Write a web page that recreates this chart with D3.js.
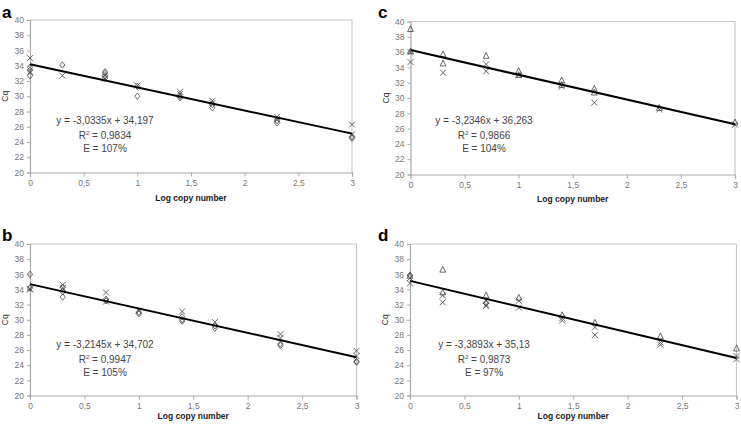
<!DOCTYPE html>
<html><head><meta charset="utf-8">
<script src="https://cdn.jsdelivr.net/npm/d3@7"></script>
<style>body{margin:0;background:#fff}svg{display:block;font-family:"Liberation Sans",Arial,sans-serif}</style>
</head><body><svg id="c" width="741" height="426"></svg>
<script>
const logCopy = [0, 0.301, 0.699, 1, 1.398, 1.699, 2.301, 3];
const xTicks = [0, 0.5, 1, 1.5, 2, 2.5, 3];
const yTicks = [20, 22, 24, 26, 28, 30, 32, 34, 36, 38, 40];

// panel a
const aDiamond = [[33.8, 33.4, 32.7], [34.1], [33.2, 33.0, 32.7, 32.4], [31.3, 30.0], [30.0, 29.8], [28.9, 28.5], [26.8, 26.5], [24.7, 24.5]];
const aCross = [[35.0, 33.2], [32.7], [32.3], [31.4], [30.6, 30.3], [29.4, 29.1], [27.3, 27.0], [26.3, 25.0]];
// panel b
const bDiamond = [[36.0, 34.2], [34.3, 33.7, 33.0], [32.7, 32.5], [31.0, 30.8], [30.4, 30.0, 29.8], [29.2, 28.9], [26.8, 26.6], [24.5, 24.4]];
const bCross = [[34.1, 34.0], [34.6, 34.2], [33.6, 32.4], [31.2], [31.1], [29.7], [28.1, 27.6], [25.9, 25.2]];
// panel c
const cTriangle = [[39.0, 36.1], [35.7, 34.5], [35.5], [33.5, 33.0], [32.3, 31.7], [31.2, 30.7], [28.7], [26.8]];
const cCross = [[36.0, 34.7], [33.3], [34.4, 33.5], [33.0], [31.5], [29.4], [28.5], [26.5]];
// panel d
const dTriangle = [[35.8], [36.6, 33.6], [33.2], [32.9], [30.6], [29.6], [27.8], [26.2]];
const dCross = [[35.5, 34.8], [33.2, 32.3], [32.5, 32.0, 31.8], [32.5, 31.6], [30.2, 29.9], [29.0, 28.0], [27.0, 26.7], [25.2, 24.8]];
const dDiamond = [[35.9], [], [32.2], [], [], [], [], []];

const panelLetters = ["a", "b", "c", "d"];
const slopes = [-3.0335, -3.2145, -3.2346, -3.3893];
const intercepts = [34.197, 34.702, 36.263, 35.13];
const equations = ["y = -3,0335x + 34,197", "y = -3,2145x + 34,702", "y = -3,2346x + 36,263", "y = -3,3893x + 35,13"];
const r2Values = ["0,9834", "0,9947", "0,9866", "0,9873"];
const effValues = ["107%", "105%", "104%", "97%"];

const panels = [
  {L: 30, R: 352, T: 20, B: 172.5, lx: 2, ly: 18, ex: 105, ey: 124, xl: 28, series: [[aDiamond, "diamond"], [aCross, "cross"]]},
  {L: 30, R: 356.5, T: 244, B: 395.5, lx: 2, ly: 241, ex: 105, ey: 348, xl: 23, series: [[bDiamond, "diamond"], [bCross, "cross"]]},
  {L: 410.5, R: 735, T: 21.5, B: 174.5, lx: 378, ly: 18, ex: 484, ey: 124, xl: 27, series: [[cTriangle, "triangle"], [cCross, "cross"]]},
  {L: 410, R: 736.5, T: 244, B: 395.5, lx: 378, ly: 241, ex: 484, ey: 348, xl: 23, series: [[dTriangle, "triangle"], [dCross, "cross"], [dDiamond, "diamond"]]}
];

const svg = d3.select("#c");
const fmt = v => String(v).replace(".", ",");

function markerPath(type) {
  if (type === "diamond") return "M0,-3.2L2.6,0L0,3.2L-2.6,0Z";
  if (type === "triangle") return "M0,-3.4L2.9,2.4L-2.9,2.4Z";
  return "M-3,-3L3,3M-3,3L3,-3";
}

panels.forEach((p, i) => {
  const x = d3.scaleLinear().domain([0, 3]).range([p.L, p.R]);
  const y = d3.scaleLinear().domain([20, 40]).range([p.B, p.T]);
  const g = svg.append("g");

  // frame top/right
  g.append("path").attr("d", `M${p.L},${p.T}H${p.R}V${p.B}`).attr("fill", "none").attr("stroke", "#c8c8c8").attr("stroke-width", 1.2);

  const yAxis = g.append("g").attr("transform", `translate(${p.L},0)`)
    .call(d3.axisLeft(y).tickValues(yTicks).tickSize(3).tickPadding(3).tickFormat(d => d));
  const xAxis = g.append("g").attr("transform", `translate(0,${p.B})`)
    .call(d3.axisBottom(x).tickValues(xTicks).tickSize(4).tickPadding(3).tickFormat(fmt));
  [yAxis, xAxis].forEach(ax => {
    ax.select(".domain").attr("stroke", "#aaa").attr("stroke-width", 1.2);
    ax.selectAll(".tick line").attr("stroke", "#aaa");
    ax.selectAll("text").attr("fill", "#777").attr("font-size", 8.5).attr("font-family", "Liberation Sans, Arial, sans-serif");
  });

  // markers
  p.series.forEach(([vals, type]) => {
    vals.forEach((arr, k) => {
      arr.forEach(v => {
        g.append("path").attr("d", markerPath(type))
          .attr("transform", `translate(${x(logCopy[k])},${y(v)})`)
          .attr("fill", "none").attr("stroke", "#444").attr("stroke-width", 0.8);
      });
    });
  });

  // regression line
  g.append("line")
    .attr("x1", x(0)).attr("y1", y(intercepts[i]))
    .attr("x2", x(3)).attr("y2", y(intercepts[i] + slopes[i] * 3))
    .attr("stroke", "#000").attr("stroke-width", 2);

  // equation text
  const t = g.append("g").attr("font-size", 10).attr("fill", "#444").attr("text-anchor", "middle");
  t.append("text").attr("x", p.ex).attr("y", p.ey).text(equations[i]);
  const r = t.append("text").attr("x", p.ex).attr("y", p.ey + 14.5);
  r.append("tspan").text("R");
  r.append("tspan").attr("dy", -4).attr("font-size", 6).text("2");
  r.append("tspan").attr("dy", 4).text(" = " + r2Values[i]);
  t.append("text").attr("x", p.ex).attr("y", p.ey + 28).text("E = " + effValues[i]);

  // axis labels
  g.append("text").attr("x", (p.L + p.R) / 2).attr("y", p.B + p.xl).attr("text-anchor", "middle")
    .attr("font-size", 8.5).attr("font-weight", "bold").attr("fill", "#222").text("Log copy number");
  g.append("text").attr("transform", `translate(${p.L - 22},${(p.T + p.B) / 2}) rotate(-90)`)
    .attr("text-anchor", "middle").attr("font-size", 8.5).attr("fill", "#333").text("Cq");

  // panel letter
  g.append("text").attr("x", p.lx).attr("y", p.ly).attr("font-size", 17).attr("font-weight", "bold").attr("fill", "#000").text(panelLetters[i]);
});
</script></body></html>
